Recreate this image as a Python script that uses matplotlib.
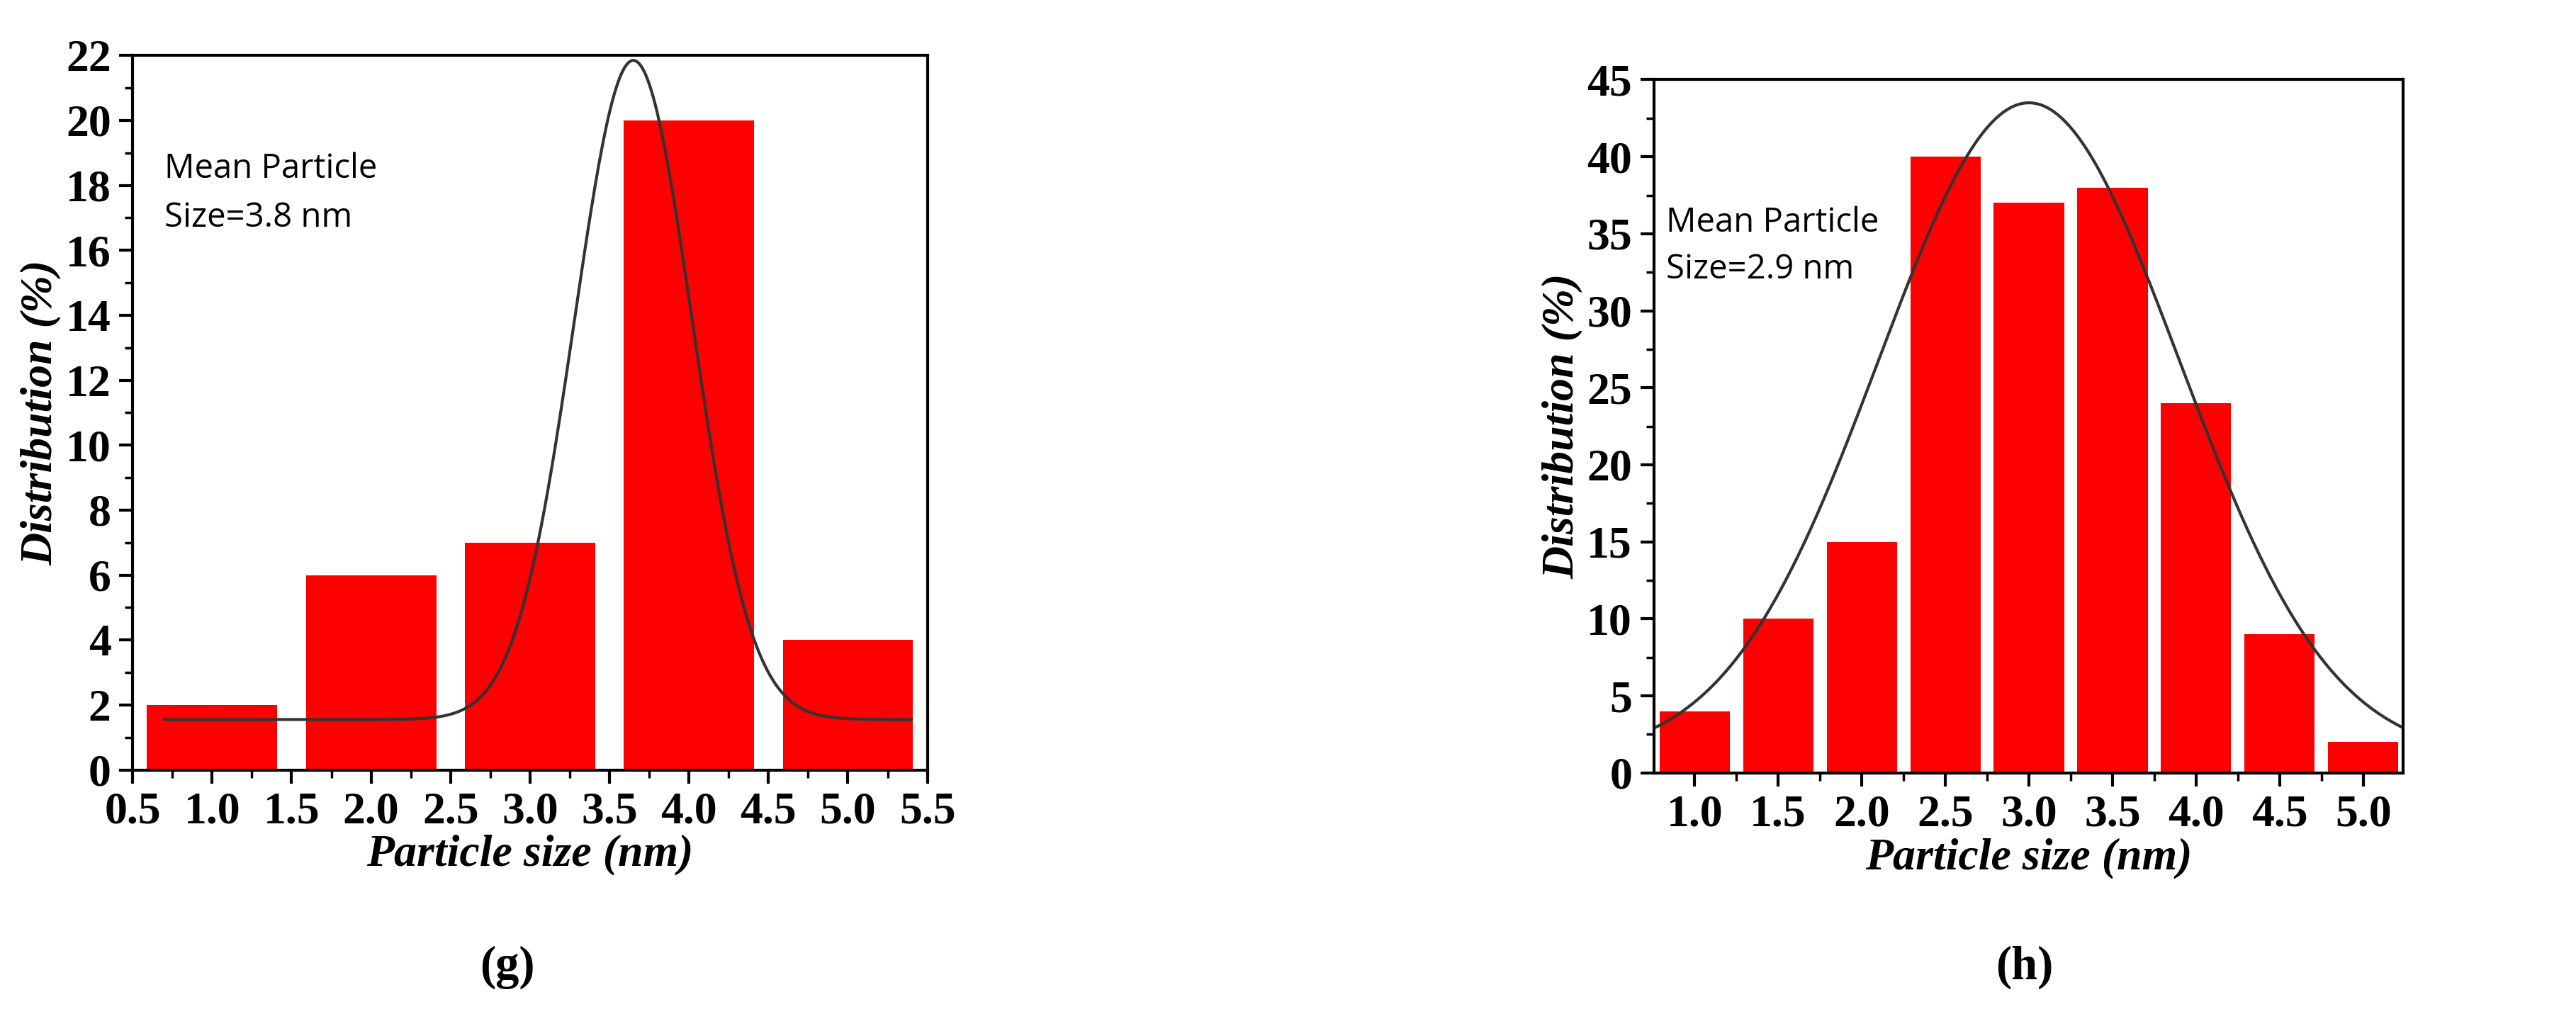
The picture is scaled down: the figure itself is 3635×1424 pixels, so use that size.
import numpy as np
import matplotlib
matplotlib.use("Agg")
import matplotlib.pyplot as plt
from matplotlib.ticker import MultipleLocator

# Panel g data
g_x = [1.0, 2.0, 3.0, 4.0, 5.0]
g_y = [2, 6, 7, 20, 4]
g_fit = dict(y0=1.55, A=20.3, xc=3.65, s=0.37)
# Panel h data
h_x = [1.0, 1.5, 2.0, 2.5, 3.0, 3.5, 4.0, 4.5, 5.0]
h_y = [4, 10, 15, 40, 37, 38, 24, 9, 2]
h_fit = dict(y0=1.0, A=42.5, xc=3.0, s=0.9)

RED = "#ff0000"
fig = plt.figure(figsize=(36.35, 14.24), dpi=100)
tickfont = dict(family="Liberation Serif", weight="bold", size=46)
labfont = dict(family="Liberation Serif", weight="bold", style="italic", size=46)

def gauss(x, p):
    return p["y0"] + p["A"] * np.exp(-(x - p["xc"]) ** 2 / (2 * p["s"] ** 2))

def style(ax, ymaj, ymin, xmaj, xmin):
    for sp in ax.spines.values():
        sp.set_linewidth(3)
    ax.yaxis.set_major_locator(MultipleLocator(ymaj))
    ax.yaxis.set_minor_locator(MultipleLocator(ymin))
    ax.xaxis.set_major_locator(MultipleLocator(xmaj))
    ax.xaxis.set_minor_locator(MultipleLocator(xmin))
    ax.tick_params(which="major", direction="out", length=14, width=3, pad=8)
    ax.tick_params(which="minor", direction="out", length=8, width=2.5)
    for lab in ax.get_xticklabels() + ax.get_yticklabels():
        lab.set_fontproperties(matplotlib.font_manager.FontProperties(**tickfont))
    ax.set_xlabel("Particle size (nm)", fontdict=labfont, labelpad=2)
    ax.set_ylabel("Distribution (%)", fontdict=labfont, labelpad=4)

# g
ax1 = fig.add_axes([0.0515, 0.237, 0.3085, 0.708])
ax1.bar(g_x, g_y, width=0.82, color=RED, zorder=1)
xs = np.linspace(0.7, 5.4, 400)
ax1.plot(xs, gauss(xs, g_fit), color="#333333", lw=3, zorder=2)
ax1.set_xlim(0.5, 5.5)
ax1.set_ylim(0, 22)
style(ax1, 2, 1, 0.5, 0.25)
ax1.xaxis.set_major_formatter(matplotlib.ticker.FormatStrFormatter("%.1f"))
ax1.text(0.70, 18.5, "Mean Particle", family="Open Sans", size=34, va="center")
ax1.text(0.70, 17.0, "Size=3.8 nm", family="Open Sans", size=34, va="center")

# h
ax2 = fig.add_axes([0.642, 0.234, 0.291, 0.687])
ax2.bar(h_x, h_y, width=0.42, color=RED, zorder=1)
xs = np.linspace(0.756, 5.24, 400)
ax2.plot(xs, gauss(xs, h_fit), color="#333333", lw=3, zorder=2)
ax2.set_xlim(0.756, 5.24)
ax2.set_ylim(0, 45)
style(ax2, 5, 2.5, 0.5, 0.25)
ax2.xaxis.set_major_formatter(matplotlib.ticker.FormatStrFormatter("%.1f"))
ax2.text(0.83, 35.7, "Mean Particle", family="Open Sans", size=34, va="center")
ax2.text(0.83, 32.7, "Size=2.9 nm", family="Open Sans", size=34, va="center")

fig.text(0.197, 0.041, "(g)", family="Liberation Serif", weight="bold", size=48, ha="center", va="center")
fig.text(0.786, 0.041, "(h)", family="Liberation Serif", weight="bold", size=48, ha="center", va="center")
fig.savefig("out.png", dpi=100, facecolor="white")
